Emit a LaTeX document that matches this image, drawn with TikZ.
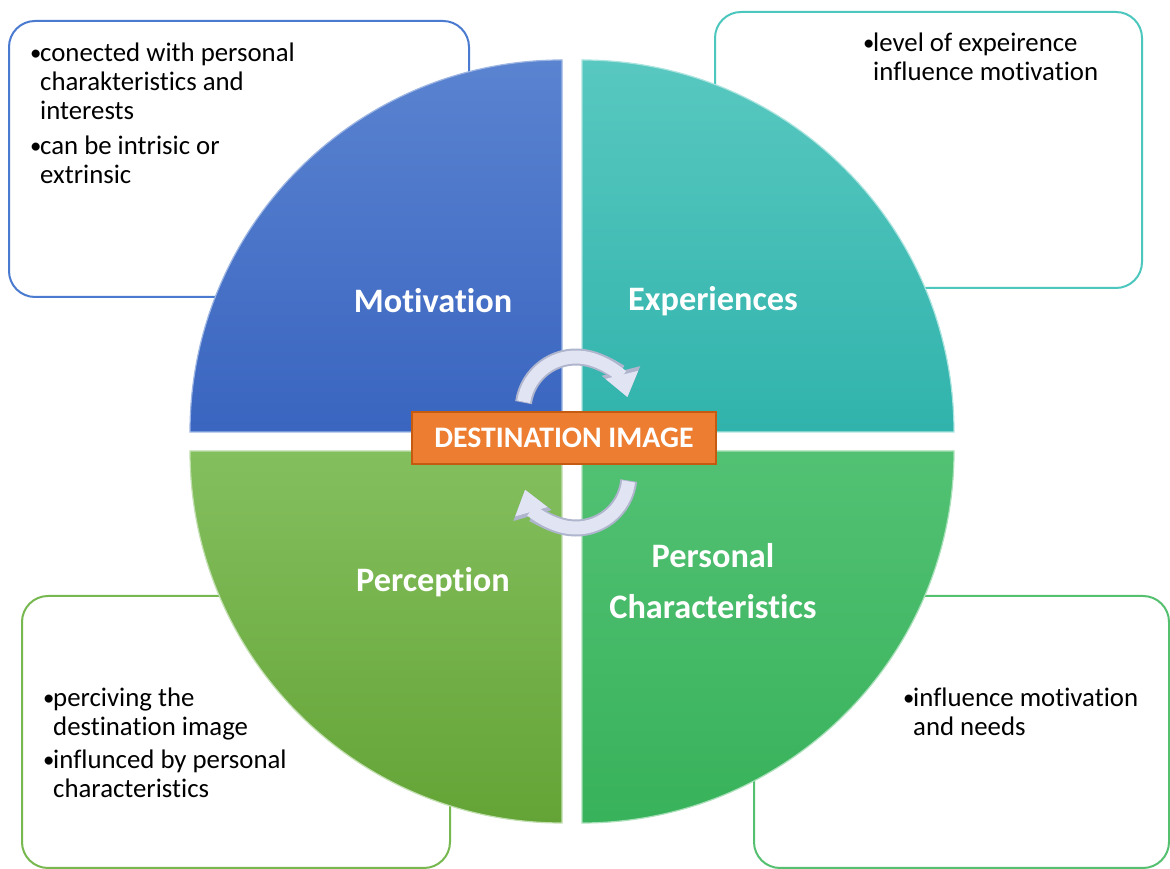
\documentclass[tikz,border=0pt]{standalone}
\usepackage{fontspec}
\setmainfont{Carlito}[Ligatures={NoCommon}]
\usetikzlibrary{arrows.meta}
\definecolor{tlblue}{HTML}{4A7BD0}
\definecolor{trteal}{HTML}{4CC7BE}
\definecolor{blgreen}{HTML}{77B851}
\definecolor{brgreen}{HTML}{55C070}
\definecolor{motTop}{HTML}{5A83D0}
\definecolor{motBot}{HTML}{3A65C0}
\definecolor{expTop}{HTML}{58C8C0}
\definecolor{expBot}{HTML}{30B3AC}
\definecolor{perTop}{HTML}{84BF5E}
\definecolor{perBot}{HTML}{64A436}
\definecolor{pcTop}{HTML}{52C173}
\definecolor{pcBot}{HTML}{38B25B}
\definecolor{destFill}{HTML}{ED7D31}
\definecolor{destLine}{HTML}{C55A11}
\definecolor{arrFill}{HTML}{E1E4F2}
\definecolor{arrLine}{HTML}{AEB5CC}
\tikzset{
  infobox/.style={draw, line width=2pt, rounded corners=26pt, fill=white, inner sep=0pt},
  bullettext/.style={anchor=north west, inner sep=0pt, align=left, text=black,
    font=\fontsize{26.8}{29}\selectfont},
  quadlabel/.style={text=white, align=center, font=\bfseries\fontsize{34.3}{51}\selectfont},
  destbox/.style={fill=destFill, draw=destLine, line width=2pt, text=white,
    font=\bfseries\fontsize{29.8}{30}\selectfont, minimum width=304pt, minimum height=52pt, inner sep=0pt},
  cyclearrowout/.style={draw=arrLine, line width=17pt, -{Triangle[length=27pt,width=38pt]}},
  cyclearrowin/.style={draw=arrFill, line width=13pt, -{Triangle[length=23pt,width=32pt]}}
}
\newcommand{\bul}{\makebox[10pt][l]{\raisebox{1pt}{\scalebox{0.85}{\textbullet}}}}
\newcommand{\ind}{\hspace*{10pt}}
\begin{document}
\begin{tikzpicture}[x=1pt,y=1pt]
\useasboundingbox (0,0) rectangle (1170,869);
\fill[white] (0,0) rectangle (1170,869);

% side boxes
\node[infobox, draw=tlblue, minimum width=460pt, minimum height=276pt] (tlbox) at (239,710) {};
\node[infobox, draw=trteal, minimum width=427pt, minimum height=276pt] (trbox) at (928.5,719) {};
\node[infobox, draw=blgreen, minimum width=428pt, minimum height=272pt] (blbox) at (236,137) {};
\node[infobox, draw=brgreen, minimum width=415pt, minimum height=272pt] (brbox) at (961.5,137) {};

% quadrants
\shade[top color=motTop, bottom color=motBot, draw=motTop!60!white, line width=1.2pt]
  (562,437) -- ++(-372,0) arc[start angle=180, end angle=90, radius=372] -- cycle;
\shade[top color=expTop, bottom color=expBot, draw=expTop!50!white, line width=1.2pt]
  (582,437) -- ++(0,372) arc[start angle=90, end angle=0, radius=372] -- cycle;
\shade[top color=perTop, bottom color=perBot, draw=perTop!50!white, line width=1.2pt]
  (562,418) -- ++(0,-372) arc[start angle=270, end angle=180, radius=372] -- cycle;
\shade[top color=pcTop, bottom color=pcBot, draw=pcTop!50!white, line width=1.2pt]
  (582,418) -- ++(372,0) arc[start angle=0, end angle=-90, radius=372] -- cycle;

% quadrant labels
\node[quadlabel] (mot) at (433,568) {Motivation};
\node[quadlabel] (exp) at (713,568) {Experiences};
\node[quadlabel] (per) at (433,287) {Perception};
\node[quadlabel] (pch) at (713,288) {Personal\\Characteristics};

% cycle arrows
\coordinate (topc) at (576,459);
\coordinate (botc) at (576,394);
\draw[cyclearrowout] ([shift={(172:53)}]topc) arc[start angle=172, end angle=14, radius=53];
\draw[cyclearrowin] ([shift={(171:53)}]topc) arc[start angle=171, end angle=14, radius=53];
\draw[cyclearrowout] ([shift={(-6:53)}]botc) arc[start angle=-6, end angle=-164, radius=53];
\draw[cyclearrowin] ([shift={(-7:53)}]botc) arc[start angle=-7, end angle=-164, radius=53];

% centre
\node[destbox] (dest) at (564,431) {DESTINATION IMAGE};

% bullet texts
\node[bullettext] (tltext) at (30,826) {\bul conected with personal\\ \ind charakteristics and\\ \ind interests\\[6pt] \bul can be intrisic or\\ \ind extrinsic};
\node[bullettext] (trtext) at (863,836) {\bul level of expeirence\\ \ind influence motivation};
\node[bullettext] (bltext) at (43,181) {\bul perciving the\\ \ind destination image\\[4pt] \bul influnced by personal\\ \ind characteristics};
\node[bullettext] (brtext) at (903,181) {\bul influence motivation\\ \ind and needs};
\end{tikzpicture}
\end{document}
